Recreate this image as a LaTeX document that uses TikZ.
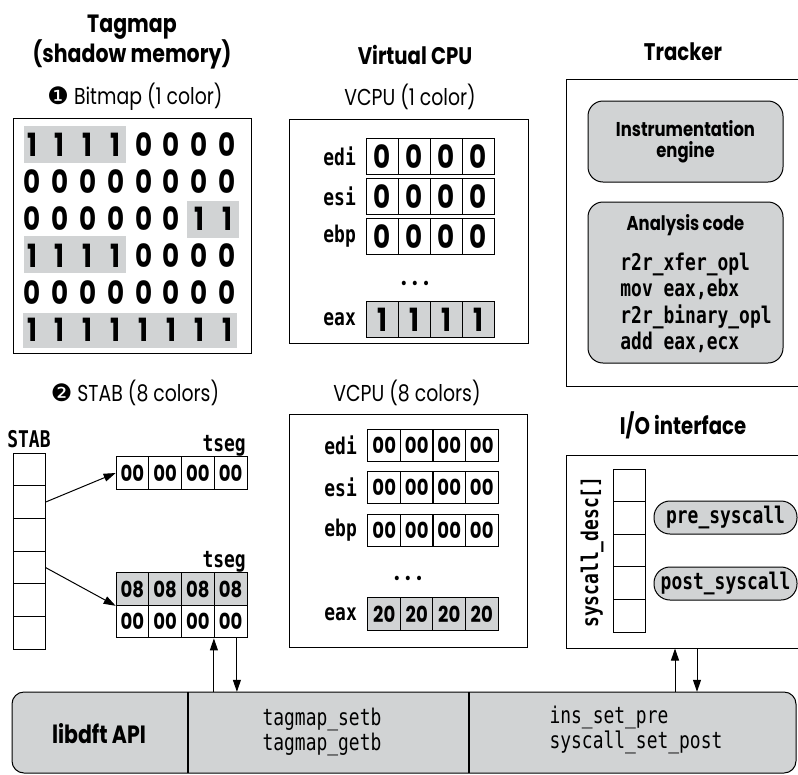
\documentclass[tikz,border=0pt]{standalone}
\usepackage{fontspec}
\setmainfont[FakeStretch=0.82]{Poppins}
\setmonofont[FakeStretch=0.78]{DejaVu Sans Mono}
\newfontfamily\dingfont{DejaVu Sans}
\usetikzlibrary{arrows.meta}
\definecolor{tagg}{RGB}{209,211,212}
\tikzset{
  panel/.style={draw, line width=1pt, inner sep=0pt},
  title/.style={font=\fontsize{25}{25}\selectfont\bfseries, align=center, inner sep=0pt},
  subtitle/.style={font=\fontsize{23}{24}\selectfont, inner sep=0pt},
  bitdig/.style={font=\fontsize{32}{32}\selectfont\bfseries, inner sep=0pt},
  bigcell/.style={draw, line width=1pt, minimum width=32pt, minimum height=36pt, inner sep=0pt, font=\fontsize{32}{32}\selectfont\bfseries},
  cell/.style={draw, line width=1pt, minimum width=32.6pt, minimum height=32.6pt, inner sep=0pt, font=\fontsize{22}{22}\selectfont\bfseries},
  slot/.style={draw, line width=1pt, minimum width=32pt, minimum height=32.7pt, inner sep=0pt},
  reglbl/.style={font=\fontsize{23}{23}\selectfont\ttfamily\bfseries, inner sep=0pt},
  code/.style={font=\fontsize{23}{26}\selectfont\ttfamily, align=left, inner sep=0pt},
  boxhead/.style={font=\fontsize{20}{21}\selectfont\bfseries, align=center, inner sep=0pt},
  gbox/.style={draw, line width=1pt, fill=tagg, rounded corners=15pt, inner sep=0pt},
  pill/.style={draw, line width=1pt, fill=tagg, rounded corners=16pt, minimum width=143pt, minimum height=33pt, inner sep=0pt, font=\fontsize{23}{23}\selectfont\ttfamily\bfseries},
  tip/.style={-{Triangle[length=12pt,width=8pt]}, line width=1pt},
}
\begin{document}
\begin{tikzpicture}[x=1pt,y=-1pt]
\useasboundingbox (0,0) rectangle (798,774);
\node[title] (tagmaphead) at (132,42) {Tagmap\\(shadow memory)};
\node[title, font=\fontsize{24}{25}\selectfont\bfseries] (vcpuhead) at (415,55) {Virtual CPU};
\node[title, font=\fontsize{24}{25}\selectfont\bfseries] (trackhead) at (683,52) {Tracker};
\node[subtitle] (bitmaphead) at (135,97) {{\dingfont\fontsize{24}{24}\selectfont ❶} Bitmap (1 color)};
\node[subtitle] (vcpuone) at (410,97) {VCPU (1 color)};
\node[subtitle] (stabhead) at (135,393) {{\dingfont\fontsize{24}{24}\selectfont ❷} STAB (8 colors)};
\node[subtitle] (vcpueight) at (407,393) {VCPU (8 colors)};
\node[title, font=\fontsize{24}{25}\selectfont\bfseries] (iohead) at (683,425) {I/O interface};

\node[panel, minimum width=238pt, minimum height=235pt] (bitmap) at (132,235.5) {};
\fill[tagg] (24,126) rectangle (126,163);
\fill[tagg] (187,201) rectangle (239,238);
\fill[tagg] (24,236) rectangle (126,273);
\fill[tagg] (23,313) rectangle (237,348);
\foreach \row [count=\r] in {{1,1,1,1,0,0,0,0},{0,0,0,0,0,0,0,0},{0,0,0,0,0,0,1,1},{1,1,1,1,0,0,0,0},{0,0,0,0,0,0,0,0},{1,1,1,1,1,1,1,1}}
  \foreach \b [count=\c] in \row
    \node[bitdig] (bit\r\c) at ({32+(\c-1)*27.9},{145+(\r-1)*37}) {\b};

\node[panel, minimum width=239pt, minimum height=224pt] (vcpu1) at (408.5,231) {};
\foreach \reg/\yy in {edi/156.5,esi/196.5,ebp/236.5}{
  \node[reglbl, anchor=east] (v1\reg) at (356,\yy) {\reg};
  \foreach \k in {1,...,4}
    \node[bigcell] (v1\reg\k) at ({350+32*\k},\yy) {0};
}
\node[font=\fontsize{24}{24}\selectfont\bfseries, inner sep=0pt] (dots1) at (415,283) {. . .};
\node[reglbl, anchor=east] (v1eax) at (356,319.5) {eax};
\foreach \k in {1,...,4}
  \node[bigcell, fill=tagg] (v1eax\k) at ({350+32*\k},319.5) {1};

\node[panel, minimum width=239pt, minimum height=307pt] (tracker) at (685.5,232.5) {};
\node[gbox, minimum width=195pt, minimum height=81pt, boxhead] (engine) at (685.5,141.5) {Instrumentation\\engine};
\node[gbox, minimum width=195pt, minimum height=161pt] (analysis) at (685.5,282.5) {};
\node[boxhead] (anhead) at (685.5,225) {Analysis code};
\node[code, font=\fontsize{23}{26.5}\selectfont\ttfamily\bfseries] (ancode) at (696,303) {r2r\_xfer\_opl\\mov eax,ebx\\r2r\_binary\_opl\\add eax,ecx};

\node[reglbl, anchor=base] (stablbl) at (29,447) {STAB};
\foreach \k in {1,...,6}
  \node[slot] (s\k) at (29,{436.7+32.7*\k}) {};
\node[reglbl, anchor=base east] (tseg1lbl) at (246,451) {tseg};
\foreach \k in {1,...,4}
  \node[cell] (ts\k) at ({99.7+32.75*\k},473) {00};
\node[reglbl, anchor=base east] (tseg2lbl) at (246,567) {tseg};
\foreach \k in {1,...,4}{
  \node[cell, fill=tagg] (tst\k) at ({99.7+32.75*\k},589) {08};
  \node[cell] (tsb\k) at ({99.7+32.75*\k},621.6) {00};
}
\draw[tip] (s2.east) -- (ts1.west);
\draw[tip] (s4.east) -- (tst1.south west);

\node[panel, minimum width=238pt, minimum height=233pt] (vcpu8) at (408,530.5) {};
\foreach \reg/\yy in {edi/445.5,esi/487.5,ebp/530.5}{
  \node[reglbl, anchor=east] (v8\reg) at (357,\yy) {\reg};
  \foreach \k in {1,...,4}
    \node[cell] (v8\reg\k) at ({351.75+32.5*\k},\yy) {00};
}
\node[font=\fontsize{24}{24}\selectfont\bfseries, inner sep=0pt] (dots8) at (408,578) {. . .};
\node[reglbl, anchor=east] (v8eax) at (357,614) {eax};
\foreach \k in {1,...,4}
  \node[cell, fill=tagg] (v8eax\k) at ({351.75+32.5*\k},614) {20};

\node[panel, minimum width=239pt, minimum height=193pt] (iobox) at (685.5,551.5) {};
\foreach \k in {1,...,5}
  \node[slot, minimum height=32.6pt] (d\k) at (629.5,{452.7+32.6*\k}) {};
\node[reglbl, rotate=90] (desclbl) at (592,552) {syscall\_desc[]};
\node[pill] (presys) at (725.5,517.5) {pre\_syscall};
\node[pill] (postsys) at (725.5,583.5) {post\_syscall};

\node[gbox, rounded corners=12pt, minimum width=784pt, minimum height=81pt] (bar) at (404,732.5) {};
\node[minimum width=176pt, minimum height=81pt, inner sep=0pt] (apipart) at (100,732.5) {};
\node[minimum width=281pt, minimum height=81pt, inner sep=0pt] (tagpart) at (328.5,732.5) {};
\node[minimum width=327pt, minimum height=81pt, inner sep=0pt] (inspart) at (632.5,732.5) {};
\draw[line width=2pt] (tagpart.north west) -- (tagpart.south west);
\draw[line width=2pt] (inspart.north west) -- (inspart.south west);
\node[font=\fontsize{25}{25}\selectfont\bfseries, inner sep=0pt] (apitxt) at (99,734) {libdft API};
\node[code, align=center, font=\fontsize{23}{25}\selectfont\ttfamily] (tagtxt) at (322,732) {tagmap\_setb\\tagmap\_getb};
\node[code, font=\fontsize{23}{25}\selectfont\ttfamily] (instxt) at (636,730) {ins\_set\_pre\\syscall\_set\_post};

\draw[tip] (tsb4.south west |- tagpart.north) -- (tsb4.south west);
\coordinate (dnA) at ([xshift=23pt]tsb4.south west);
\draw[tip] (dnA) -- (dnA |- tagpart.north);
\coordinate (upB) at ([xshift=-10.5pt]iobox.south);
\coordinate (dnB) at ([xshift=11.5pt]iobox.south);
\draw[tip] (upB |- inspart.north) -- (upB);
\draw[tip] (dnB) -- (dnB |- inspart.north);
\end{tikzpicture}
\end{document}
